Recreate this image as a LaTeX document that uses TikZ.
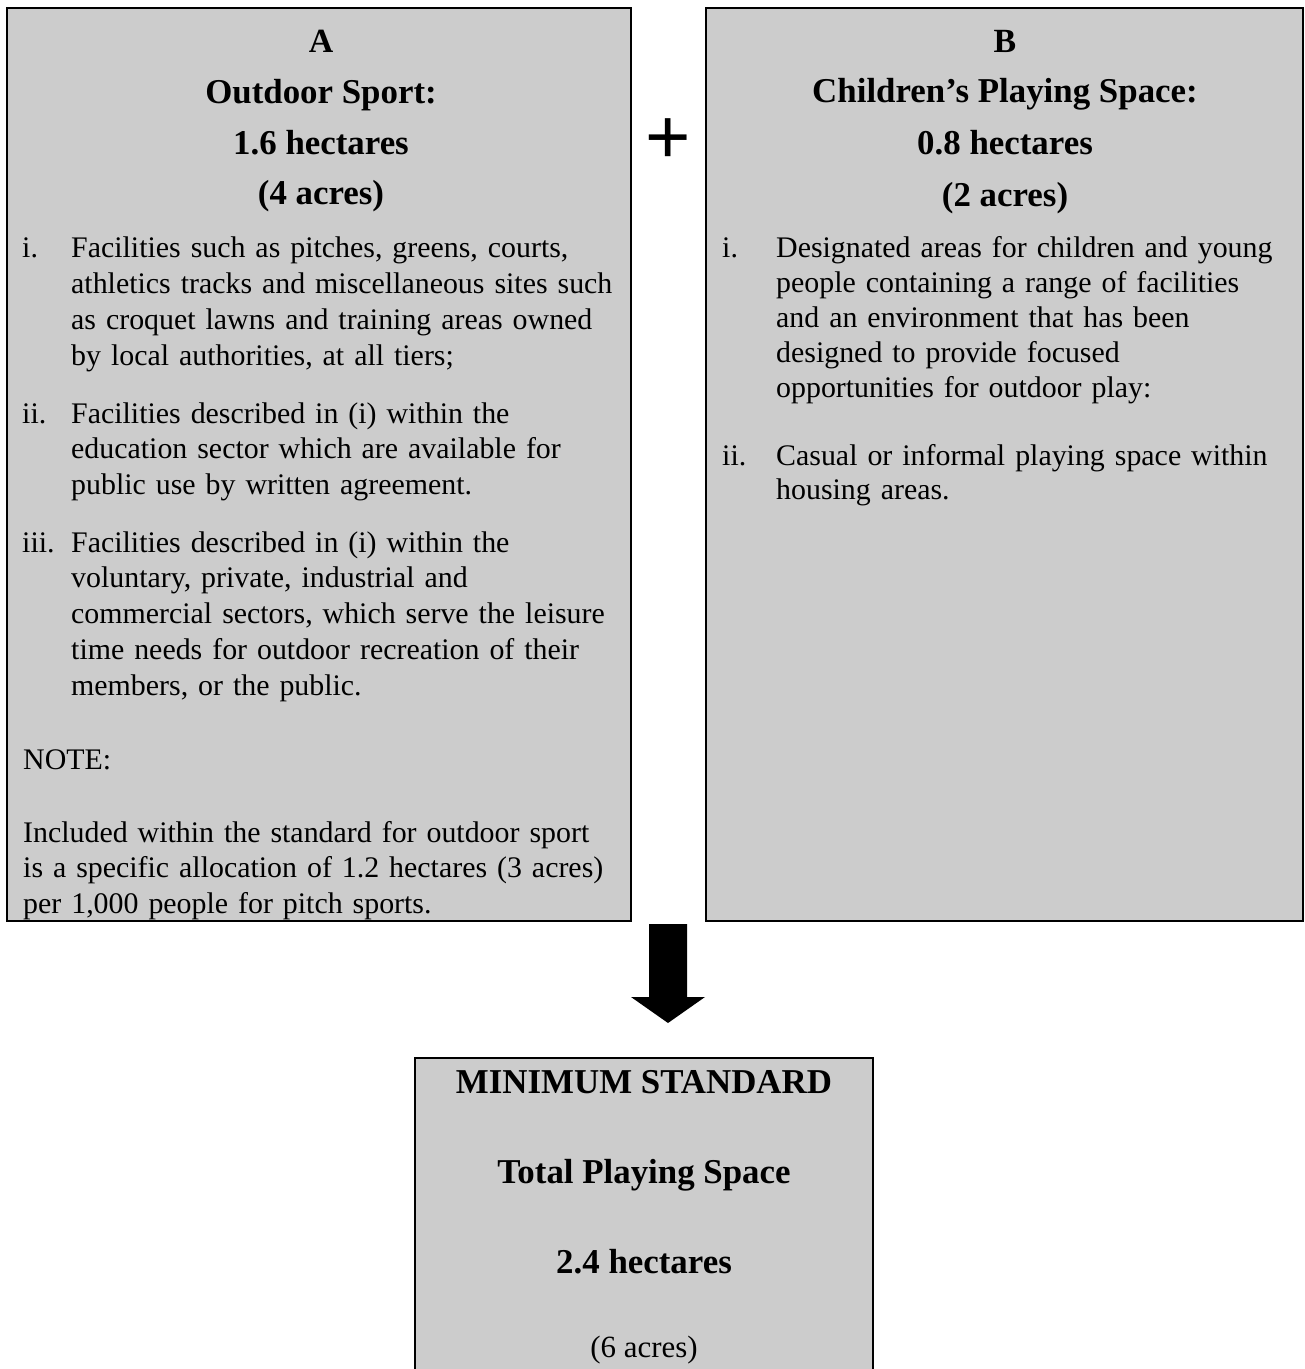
\documentclass[tikz,border=0pt]{standalone}
\usepackage{fontspec}
\setmainfont{Liberation Serif}
\newfontfamily\plusfont{Liberation Sans}
\definecolor{boxgray}{HTML}{CCCCCC}
\begin{document}
\begin{tikzpicture}[x=1bp,y=-1bp,
  panel/.style={draw=black, line width=2.9bp, fill=boxgray},
  head/.style={anchor=base, inner sep=0pt, font=\fontsize{34}{40}\selectfont\bfseries},
  bighead/.style={anchor=base, inner sep=0pt, font=\fontsize{35}{40}\selectfont\bfseries},
  plain/.style={anchor=base, inner sep=0pt, font=\fontsize{31}{36}\selectfont},
  lbl/.style={anchor=base west, inner sep=0pt, font=\fontsize{30}{36}\selectfont},
  bodyA/.style={anchor=base west, inner sep=0pt, align=left, text width=600bp, font=\fontsize{30}{36}\selectfont},
  bodyB/.style={anchor=base west, inner sep=0pt, align=left, text width=600bp, font=\fontsize{30}{35}\selectfont}]
\clip (0,0) rectangle (1305,1369);
\fill[white] (0,0) rectangle (1305,1369);
% panels
\path[panel] (7,8) rectangle (631,921);
\coordinate (boxA) at (319,464);
\path[panel] (706,8) rectangle (1303,921);
\coordinate (boxB) at (1005,464);
\path[panel] (415,1058) rectangle (873,1420);
\coordinate (boxC) at (644,1200);
% plus sign
\node[anchor=base, inner sep=0pt, font=\plusfont\fontsize{78}{78}\selectfont] (plus) at (668,164) {+};
% arrow
\fill[black] (649,924) -- (687,924) -- (687,997) -- (705,997) -- (668,1023) -- (631,997) -- (649,997) -- cycle;
% box A heading
\node[head] (hA1) at (321,53) {A};
\node[bighead] (hA2) at (321,104) {Outdoor Sport:};
\node[bighead] (hA3) at (321,155) {1.6 hectares};
\node[bighead] (hA4) at (321,205) {(4 acres)};
% box A list
\node[lbl] (lA1) at (22,258) {i.};
\node[bodyA] (tA1) at (71,258) {Facilities such as pitches, greens, courts,\\ athletics tracks and miscellaneous sites such\\ as croquet lawns and training areas owned\\ by local authorities, at all tiers;};
\node[lbl] (lA2) at (22,423) {ii.};
\node[bodyA] (tA2) at (71,423) {Facilities described in (i) within the\\ education sector which are available for\\ public use by written agreement.};
\node[lbl] (lA3) at (22,552) {iii.};
\node[bodyA] (tA3) at (71,552) {Facilities described in (i) within the\\ voluntary, private, industrial and\\ commercial sectors, which serve the leisure\\ time needs for outdoor recreation of their\\ members, or the public.};
\node[lbl] (note) at (23,769) {NOTE:};
\node[bodyA] (tA4) at (23,842) {Included within the standard for outdoor sport\\ is a specific allocation of 1.2 hectares (3 acres)\\ per 1,000 people for pitch sports.};
% box B heading
\node[head] (hB1) at (1005,53) {B};
\node[bighead] (hB2) at (1005,103) {Children’s Playing Space:};
\node[bighead] (hB3) at (1005,155) {0.8 hectares};
\node[bighead] (hB4) at (1005,207) {(2 acres)};
% box B list
\node[lbl] (lB1) at (722,258) {i.};
\node[bodyB] (tB1) at (776,258) {Designated areas for children and young\\ people containing a range of facilities\\ and an environment that has been\\ designed to provide focused\\ opportunities for outdoor play:};
\node[lbl] (lB2) at (722,465) {ii.};
\node[bodyB] (tB2) at (776,465) {Casual or informal playing space within\\ housing areas.};
% bottom box
\node[bighead] (c1) at (644,1093) {MINIMUM STANDARD};
\node[bighead] (c2) at (644,1183) {Total Playing Space};
\node[bighead] (c3) at (644,1273) {2.4 hectares};
\node[plain] (c4) at (644,1357) {(6 acres)};
\end{tikzpicture}
\end{document}
